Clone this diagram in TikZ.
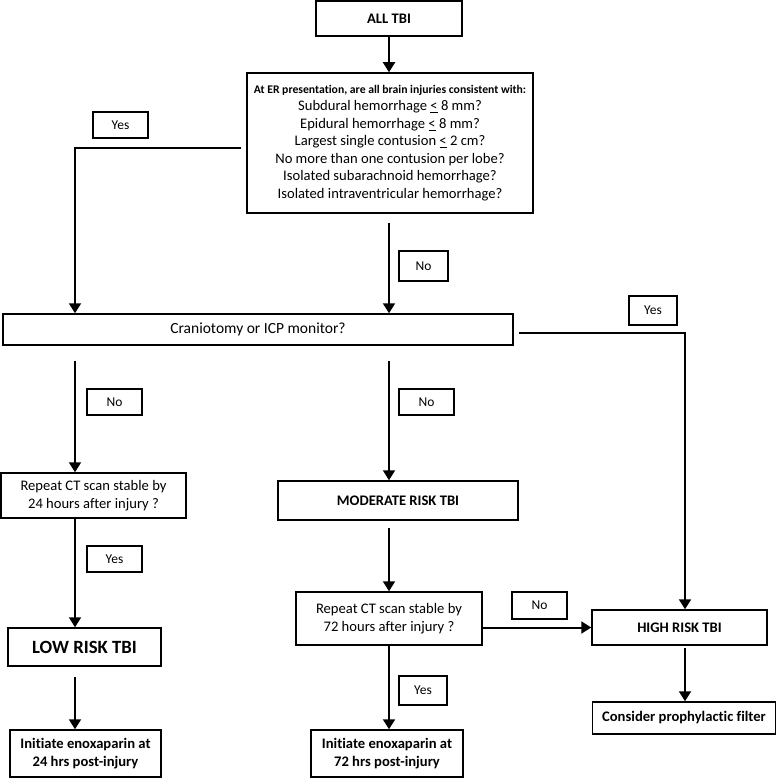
\documentclass[tikz,border=0pt]{standalone}
\usepackage{fontspec}
\setmainfont{Carlito}[Ligatures=NoCommon]
\usetikzlibrary{positioning, arrows.meta, calc}

\tikzset{
  box/.style={draw, line width=1.5pt, inner sep=0pt, align=center, font=\fontsize{14.6}{17.5}\selectfont},
  hot/.style={box, font=\bfseries\fontsize{14.6}{17.5}\selectfont},
  tag/.style={draw, line width=1.5pt, inner sep=0pt, font=\fontsize{13.5}{15}\selectfont},
  flow/.style={line width=2pt, -{Triangle[length=10pt,width=12pt]}}
}

\begin{document}
\begin{tikzpicture}[x=1pt, y=-1pt]
    \useasboundingbox (0,0) rectangle (777,778);

    % colonnes des fleches
    \coordinate (colL) at (75,148);
    \coordinate (colM) at (389,0);
    \coordinate (colR) at (685,333);

    % boites principales
    \node[hot, minimum width=146pt, minimum height=35pt] (alltbi) at (389,18.5) {ALL TBI};
    \node[box, minimum width=286pt, minimum height=140pt] (criteria) at (390,143)
      {{\bfseries\fontsize{11.7}{17.5}\selectfont At ER presentation, are all brain injuries consistent with:}\\
       Subdural hemorrhage \underline{<} 8 mm?\\
       Epidural hemorrhage \underline{<} 8 mm?\\
       Largest single contusion \underline{<} 2 cm?\\
       No more than one contusion per lobe?\\
       Isolated subarachnoid hemorrhage?\\
       Isolated intraventricular hemorrhage?};
    \node[box, minimum width=510pt, minimum height=31pt, font=\fontsize{15.5}{17.5}\selectfont] (crani) at (258,329.5) {Craniotomy or ICP monitor?};

    \node[box, minimum width=185pt, minimum height=45pt] (rct24) at (93.5,495.5)
      {Repeat CT scan stable by\\24 hours after injury ?};
    \node[hot, minimum width=153pt, minimum height=38pt, font=\bfseries\fontsize{18.7}{20}\selectfont] (low) at (84.5,647) {LOW RISK TBI};
    \node[hot, minimum width=151pt, minimum height=47pt] (init24) at (85.5,753.5)
      {Initiate enoxaparin at\\24 hrs post-injury};

    \node[hot, minimum width=240pt, minimum height=39pt] (moderate) at (398,500.5) {MODERATE RISK TBI};
    \node[box, minimum width=186pt, minimum height=53pt] (rct72) at (389,618.5)
      {Repeat CT scan stable by\\72 hours after injury ?};
    \node[hot, minimum width=152pt, minimum height=47pt] (init72) at (387,753.5)
      {Initiate enoxaparin at\\72 hrs post-injury};

    \node[hot, minimum width=175pt, minimum height=35pt] (high) at (679.5,627.5) {HIGH RISK TBI};
    \node[hot, minimum width=183pt, minimum height=32pt] (filter) at (684,718) {Consider prophylactic filter};

    % etiquettes oui / non
    \node[tag, minimum width=55pt, minimum height=26pt] (yesA) at (120.5,125) {Yes};
    \node[tag, minimum width=49pt, minimum height=30pt] (noA) at (423.5,266) {No};
    \node[tag, minimum width=48pt, minimum height=29pt] (yesB) at (653,310.5) {Yes};
    \node[tag, minimum width=55pt, minimum height=26pt] (noB) at (114.5,402) {No};
    \node[tag, minimum width=55pt, minimum height=26pt] (yesC) at (114.5,559) {Yes};
    \node[tag, minimum width=55pt, minimum height=26pt] (noC) at (426.5,402) {No};
    \node[tag, minimum width=55pt, minimum height=27pt] (noD) at (539.5,605.5) {No};
    \node[tag, minimum width=48pt, minimum height=29pt] (yesD) at (423,690.5) {Yes};

    % fleches
    \draw[flow] (alltbi.south) -- (alltbi.south |- criteria.north);
    \draw[flow, shorten <=5pt] (criteria.west |- colL) -- (colL) -- (colL |- crani.north);
    \draw[flow, shorten <=9pt] (colM |- criteria.south) -- (colM |- crani.north);
    \draw[flow, shorten <=5pt] (crani.east |- colR) -- (colR) -- (colR |- high.north);

    \draw[flow, shorten <=15pt] (colL |- crani.south) -- (colL |- rct24.north);
    \draw[flow] (colL |- rct24.south) -- (colL |- low.north);
    \draw[flow, shorten <=10pt] (colL |- low.south) -- (colL |- init24.north);

    \draw[flow, shorten <=15pt] (colM |- crani.south) -- (colM |- moderate.north);
    \draw[flow, shorten <=7pt] (colM |- moderate.south) -- (colM |- rct72.north);
    \draw[flow] (colM |- rct72.south) -- (colM |- init72.north);
    \draw[flow] (rct72.east |- high.west) -- (high.west);

    \draw[flow, shorten <=2pt] (colR |- high.south) -- (colR |- filter.north);
  \end{tikzpicture}
\end{document}
